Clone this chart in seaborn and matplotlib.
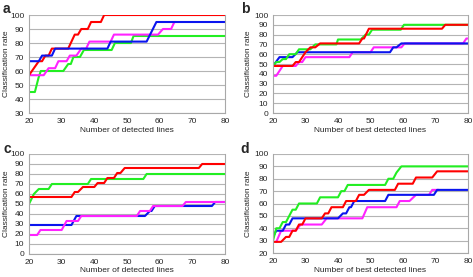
import matplotlib
matplotlib.use("Agg")
import matplotlib.pyplot as plt
import seaborn as sns

# panel a - number of detected lines
a_red_x = [20, 23, 24, 25, 26, 27, 32, 33, 34, 35, 36, 38, 39, 42, 43, 80]
a_red_y = [57, 67, 67, 71, 71, 76, 76, 81, 86, 86, 90, 90, 95, 95, 100, 100]
a_green_x = [20, 21.8, 22.9, 23.6, 30.5, 32, 32.8, 33.6, 35.6, 36.8, 45.3, 46.3, 51.2, 52, 80]
a_green_y = [45, 45, 55, 60, 60, 65, 65, 70, 70, 75, 75, 80, 80, 85, 85]
a_blue_x = [20, 23, 24, 27, 28, 44, 45, 56, 59, 80]
a_blue_y = [67, 67, 71, 71, 76, 76, 81, 81, 95, 95]
a_magenta_x = [20, 24.5, 26, 28, 29, 31.5, 32.5, 34.5, 36, 37.5, 38.5, 45, 46, 59.5, 61, 63.5, 64.5, 65]
a_magenta_y = [57, 57, 62, 62, 67, 67, 71, 71, 76, 76, 81, 81, 86, 86, 90, 90, 95, 95]

# panel b - number of best detected lines
b_red_x = [20, 26, 27, 28, 30, 31.5, 33, 34.5, 46.5, 47.5, 48, 49.5, 72, 73, 80]
b_red_y = [48, 48, 52, 52, 62, 67, 67, 71, 71, 76, 76, 86, 86, 90, 90]
b_green_x = [20, 21, 22, 23, 24, 25, 27, 28, 31.5, 33, 39.5, 40, 47, 48.5, 49.5, 50.5, 59.3, 60.3, 80]
b_green_y = [48, 52, 52, 55, 55, 60, 60, 65, 65, 70, 70, 75, 75, 80, 80, 85, 85, 90, 90]
b_blue_x = [20, 22, 26, 27.5, 56, 57, 58, 59.5, 80]
b_blue_y = [48, 57, 57, 62, 62, 67, 67, 71, 71]
b_magenta_x = [20, 21, 23, 27, 28, 29, 30, 43.5, 44.5, 50, 51, 59.5, 60.5, 78.5, 79.5, 80]
b_magenta_y = [38, 38, 48, 48, 52, 52, 57, 57, 62, 62, 67, 67, 71, 71, 76, 76]

# panel c
c_red_x = [20, 33, 34, 35, 36.5, 40, 41, 43, 44, 46, 47, 48, 49.3, 72, 73, 80]
c_red_y = [57, 57, 62, 62, 67, 67, 71, 71, 76, 76, 81, 81, 86, 86, 90, 90]
c_green_x = [20, 21.5, 23, 26, 27, 38, 39, 55, 56, 80]
c_green_y = [50, 60, 65, 65, 70, 70, 75, 75, 80, 80]
c_blue_x = [20, 33, 34.5, 55.5, 57, 57.5, 58.5, 76, 77, 80]
c_blue_y = [29, 29, 38, 38, 43, 43, 48, 48, 52, 52]
c_magenta_x = [20, 22.5, 23.5, 30, 31.5, 35, 36, 53, 54, 57, 58, 67, 68, 80]
c_magenta_y = [19, 19, 24, 24, 33, 33, 38, 38, 43, 43, 48, 48, 52, 52]

# panel d
d_red_x = [20, 22.5, 24, 25, 26, 27, 28, 29, 30, 35, 36, 37, 38, 41.5, 42.5, 45.5, 46.5, 48, 49.5,
           57.5, 58.5, 63, 64, 69, 70.5, 80]
d_red_y = [29, 29, 33, 33, 38, 38, 43, 43, 48, 48, 52, 52, 57, 57, 62, 62, 67, 67, 71,
           71, 76, 76, 81, 81, 86, 86]
d_green_x = [20, 21, 22, 23, 24, 25, 26, 27, 28, 33.5, 34.5, 40, 41, 42, 43, 54.5, 55.5, 57, 58, 59.5, 80]
d_green_y = [30, 40, 40, 45, 45, 50, 55, 55, 60, 60, 65, 65, 70, 70, 75, 75, 80, 80, 85, 90, 90]
d_blue_x = [20, 21, 23, 24, 25, 26, 40, 41.5, 42.5, 43.5, 44, 45, 54.5, 55.5, 69.5, 70.5, 80]
d_blue_y = [33, 38, 38, 43, 43, 48, 48, 52, 52, 57, 57, 62, 62, 67, 67, 71, 71]
d_magenta_x = [21, 22.5, 27, 28.5, 35, 36.5, 47.5, 49, 58, 59, 62, 64, 68, 69, 71]
d_magenta_y = [29, 38, 38, 43, 43, 48, 48, 57, 57, 62, 62, 67, 67, 71, 71]

colors = {"red": "#ff0000", "green": "#22ee22", "blue": "#0a14ee", "magenta": "#ff22ff"}

panels = [
    ("a", "Number of detected lines", (30, 100),
     [("green", a_green_x, a_green_y), ("magenta", a_magenta_x, a_magenta_y),
      ("red", a_red_x, a_red_y), ("blue", a_blue_x, a_blue_y)]),
    ("b", "Number of best detected lines", (0, 100),
     [("magenta", b_magenta_x, b_magenta_y), ("blue", b_blue_x, b_blue_y),
      ("green", b_green_x, b_green_y), ("red", b_red_x, b_red_y)]),
    ("c", "Number of detected lines", (0, 100),
     [("blue", c_blue_x, c_blue_y), ("magenta", c_magenta_x, c_magenta_y),
      ("green", c_green_x, c_green_y), ("red", c_red_x, c_red_y)]),
    ("d", "Number of best detected lines", (20, 100),
     [("magenta", d_magenta_x, d_magenta_y), ("blue", d_blue_x, d_blue_y),
      ("red", d_red_x, d_red_y), ("green", d_green_x, d_green_y)]),
]

sns.set_style("white")
plt.rcParams['font.family'] = ['Liberation Sans', 'DejaVu Sans']

W, H = 473, 277
fig = plt.figure(figsize=(W / 100, H / 100), dpi=100)

# axes boxes in pixels: left, top, right, bottom
boxes = [(29, 15, 225, 113), (273, 15, 468, 113), (29, 154, 225, 254), (273, 154, 468, 253)]
letter_pos = [(3, 2), (241, 2), (3, 142), (240, 142)]
# label centres in pixels: ylabel x, xlabel y
label_pos = [(6, 131), (248, 131), (6, 270), (248, 270)]

for (label, xlabel, ylim, series), (l, t, r, b), (lx, ly), (ylx, xly) in zip(panels, boxes, letter_pos, label_pos):
    ax = fig.add_axes([l / W, 1 - b / H, (r - l) / W, (b - t) / H])
    for name, xs, ys in series:
        sns.lineplot(x=xs, y=ys, ax=ax, color=colors[name], lw=1.5, sort=False, estimator=None)
    ax.set_xlim(20, 80)
    ax.set_ylim(*ylim)
    ax.set_xticks(range(20, 81, 10))
    ax.set_yticks(range(ylim[0], 101, 10))
    ax.yaxis.grid(True, color="#b4b4b4", lw=0.8)
    ax.set_axisbelow(True)
    for side in ["left", "bottom", "right"]:
        ax.spines[side].set_color("#a8a8a8")
        ax.spines[side].set_linewidth(0.8)
    ax.spines["top"].set_visible(False)
    ax.tick_params(axis="both", labelsize=6, length=2.5, width=0.6, color="#a8a8a8", pad=1)
    ax.set_xlabel(xlabel, fontsize=6)
    ax.set_ylabel("Classification rate", fontsize=6)
    ax.xaxis.set_label_coords(0.5, (b - xly) / (b - t))
    ax.yaxis.set_label_coords((ylx - l) / (r - l), 0.5)
    ax.xaxis.label.set_va("center")
    ax.yaxis.label.set_va("center")
    fig.text(lx / W, 1 - ly / H, label, fontsize=10, fontweight="bold", va="top", ha="left")

fig.savefig("out.png", dpi=100)
